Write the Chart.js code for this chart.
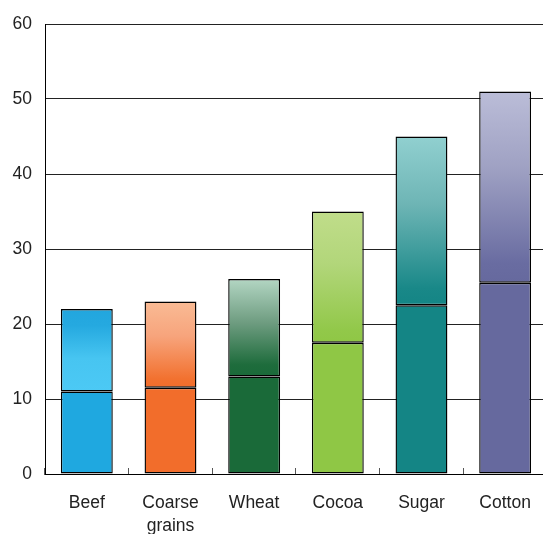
<!DOCTYPE html>
<html>
<head>
<meta charset="utf-8">
<script src="https://cdn.jsdelivr.net/npm/chart.js@4/dist/chart.umd.min.js"></script>
<style>
  html, body { margin: 0; padding: 0; background: #fff; overflow: hidden; }
  #chart { display: block; }
</style>
</head>
<body>
<canvas id="chart" width="555" height="534" style="width:555px;height:534px"></canvas>
<script>
// Chart data
const categories = ['Beef', ['Coarse', 'grains'], 'Wheat', 'Cocoa', 'Sugar', 'Cotton'];
const lowerValues = [11, 11.5, 13, 17.5, 22.5, 25.5];
const upperValues = [11, 11.5, 13, 17.5, 22.5, 25.5];
const yTicks = [0, 10, 20, 30, 40, 50, 60];

// Colours: solid lower half, gradient stops for the upper half (bottom -> top)
const baseColors = ['#1fa8e0', '#f26d2b', '#1a6a39', '#8fc745', '#148585', '#66699e'];
const upperStops = [
  [[0, '#4cc9f5'], [0.4, '#47c5f1'], [0.8, '#25a9e0'], [1, '#22a6de']],
  [[0, '#f26d2b'], [0.1, '#f2712f'], [0.6, '#f7a47c'], [1, '#f9bb95']],
  [[0, '#1a6a39'], [0.12, '#1e6c3c'], [0.55, '#6e9c80'], [1, '#b3d6c3']],
  [[0, '#8fc745'], [0.1, '#92c84a'], [0.6, '#b2d67a'], [1, '#c0dd8a']],
  [[0, '#148585'], [0.1, '#198888'], [0.6, '#6eb5b5'], [1, '#91d0d0']],
  [[0, '#66699e'], [0.1, '#696ca1'], [0.6, '#9fa1c3'], [1, '#bbbdd8']]
];

function upperFill(ctx) {
  const chart = ctx.chart;
  const i = ctx.dataIndex;
  if (!chart.chartArea || !chart.scales.y) return baseColors[i];
  const y = chart.scales.y;
  const y0 = y.getPixelForValue(lowerValues[i]);
  const y1 = y.getPixelForValue(lowerValues[i] + upperValues[i]);
  const g = chart.ctx.createLinearGradient(0, y0, 0, y1);
  upperStops[i].forEach(s => g.addColorStop(s[0], s[1]));
  return g;
}

const font = { family: '"Liberation Sans", Arial, sans-serif', size: 17.5 };

new Chart(document.getElementById('chart'), {
  type: 'bar',
  data: {
    labels: categories,
    datasets: [
      {
        data: lowerValues,
        backgroundColor: baseColors,
        borderColor: '#000',
        borderWidth: 1.4,
        borderSkipped: false,
        barPercentage: 0.62,
        categoryPercentage: 1
      },
      {
        data: upperValues,
        backgroundColor: upperFill,
        borderColor: '#000',
        borderWidth: 1.4,
        borderSkipped: false,
        barPercentage: 0.62,
        categoryPercentage: 1
      }
    ]
  },
  options: {
    responsive: false,
    animation: false,
    layout: { padding: { top: 24, right: 1, left: 0, bottom: 0 } },
    plugins: {
      legend: { display: false },
      tooltip: { enabled: false }
    },
    scales: {
      x: {
        stacked: true,
        grid: {
          offset: true,
          drawOnChartArea: false,
          drawTicks: true,
          tickLength: -6,
          color: '#555',
          lineWidth: 1
        },
        border: { color: '#000', width: 1 },
        ticks: {
          color: '#222',
          font: { ...font, lineHeight: 1.3 },
          padding: 24,
          maxRotation: 0,
          autoSkip: false
        },
        afterFit: scale => { scale.height = 60; }
      },
      y: {
        stacked: true,
        min: 0,
        max: 60,
        afterBuildTicks: scale => { scale.ticks = yTicks.map(v => ({ value: v })); },
        grid: {
          color: '#222',
          lineWidth: 1,
          drawTicks: false
        },
        border: { color: '#000', width: 1 },
        ticks: {
          color: '#222',
          font: font,
          padding: 13
        },
        afterFit: scale => { scale.width = 45; }
      }
    }
  }
});
</script>
</body>
</html>
